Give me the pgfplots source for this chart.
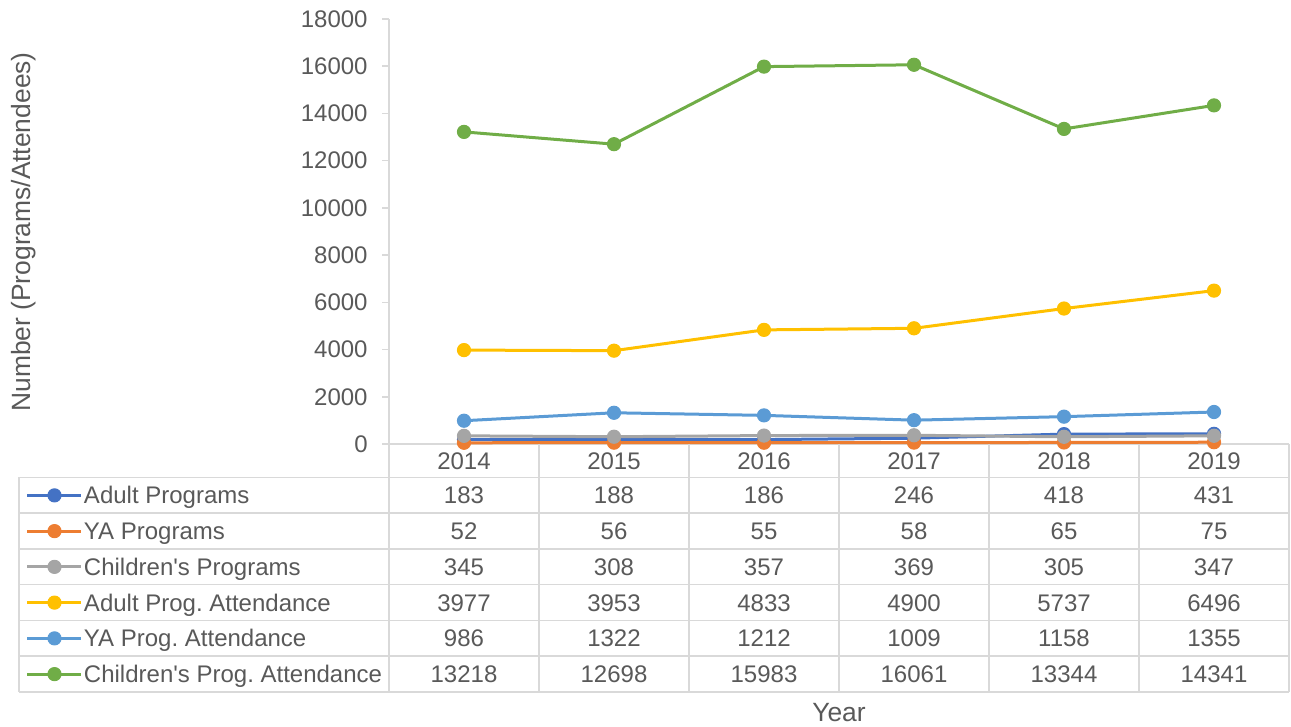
\documentclass[border=0pt]{standalone}
\usepackage{pgfplots}
\pgfplotsset{compat=1.18}
\usepackage{pgfplotstable}
\usepackage{fontspec}
\setmainfont{Liberation Sans}
\frenchspacing
\definecolor{txt}{HTML}{595959}
\definecolor{gridc}{HTML}{D9D9D9}
\definecolor{c1}{HTML}{4472C4}
\definecolor{c2}{HTML}{ED7D31}
\definecolor{c3}{HTML}{A5A5A5}
\definecolor{c4}{HTML}{FFC000}
\definecolor{c5}{HTML}{5B9BD5}
\definecolor{c6}{HTML}{70AD47}

\pgfplotstableread{
year adult ya child adultatt yaatt childatt
2014 183 52 345 3977 986 13218
2015 188 56 308 3953 1322 12698
2016 186 55 357 4833 1212 15983
2017 246 58 369 4900 1009 16061
2018 418 65 305 5737 1158 13344
2019 431 75 347 6496 1355 14341
}\datatable

\begin{document}
\begin{tikzpicture}
\useasboundingbox (0pt,0pt) rectangle (645.5pt,363.5pt);
\begin{axis}[
  at={(194.5pt,141.5pt)}, anchor=south west,
  scale only axis, width=450pt, height=212.5pt,
  xmin=2013.5, xmax=2019.5, ymin=0, ymax=18000,
  xtick=\empty, ytick={0,2000,...,18000},
  axis lines*=left,
  axis line style={draw=gridc, line width=0.75pt, -},
  tick align=outside, major tick length=3.5pt,
  ytick style={draw=gridc, line width=0.75pt},
  /pgf/number format/assume math mode=true,
  /pgf/number format/1000 sep={},
  scaled y ticks=false,
  yticklabel style={font=\fontsize{12}{14}\selectfont, text=txt, inner sep=0pt, xshift=-7pt},
  clip=false,
  every axis plot/.append style={line width=1.5pt, mark=*, mark size=3.3pt, mark options={solid, line width=0.5pt}},
  legend style={at={(-0.40333,-0.07882)}, anchor=north west, draw=none, fill=none,
    inner sep=0pt, outer sep=0pt, row sep=0pt, column sep=0.5pt,
    font=\fontsize{12}{14}\selectfont, text=txt,
    nodes={inner sep=0pt, text height=13.24pt, text depth=4.635pt}},
  legend cell align=left,
  legend image code/.code={\draw[mark repeat=2,mark phase=2] plot coordinates {(0pt,0pt) (13.5pt,0pt) (27pt,0pt)};},
]
\addplot[color=c1] table[x=year,y=adult] {\datatable};
\addlegendentry{Adult Programs}
\addplot[color=c2] table[x=year,y=ya] {\datatable};
\addlegendentry{YA Programs}
\addplot[color=c3] table[x=year,y=child] {\datatable};
\addlegendentry{Children\textquotesingle s Programs}
\addplot[color=c4] table[x=year,y=adultatt] {\datatable};
\addlegendentry{Adult Prog. Attendance}
\addplot[color=c5] table[x=year,y=yaatt] {\datatable};
\addlegendentry{YA Prog. Attendance}
\addplot[color=c6] table[x=year,y=childatt] {\datatable};
\addlegendentry{Children\textquotesingle s Prog. Attendance}
\end{axis}
\begin{scope}[x=0.5pt,y=-0.5pt,yshift=363.5pt]
% data table grid
\foreach \yy in {477.5,513.25,549,584.75,620.5,656.25,692} {
  \draw[gridc, line width=0.75pt] (19,\yy) -- (1289,\yy);
}
\foreach \xx in {539,689,839,989,1139,1289} {
  \draw[gridc, line width=0.75pt] (\xx,444) -- (\xx,692);
}
\draw[gridc, line width=0.75pt] (389,444) -- (389,692);
\draw[gridc, line width=0.75pt] (19,477.5) -- (19,692);
% header years
\foreach \c in {0,...,5} {
  \pgfplotstablegetelem{\c}{year}\of\datatable
  \node[anchor=base, inner sep=0pt, text=txt, font=\fontsize{12}{14}\selectfont] at ({464+150*\c}, 469.3) {\pgfplotsretval};
}
% values
\foreach \col [count=\r from 0] in {adult,ya,child,adultatt,yaatt,childatt} {
  \foreach \c in {0,...,5} {
    \pgfplotstablegetelem{\c}{\col}\of\datatable
    \node[anchor=base, inner sep=0pt, text=txt, font=\fontsize{12}{14}\selectfont] at ({464+150*\c}, {504+35.75*\r}) {\pgfplotsretval};
  }
}
\node[anchor=base, inner sep=0pt, text=txt, font=\fontsize{13.2}{15}\selectfont] at (839,722) {Year};
\node[anchor=base, rotate=90, inner sep=0pt, text=txt, font=\fontsize{13.2}{15}\selectfont] at (31,232) {Number (Programs/Attendees)};
\end{scope}
\end{tikzpicture}
\end{document}
